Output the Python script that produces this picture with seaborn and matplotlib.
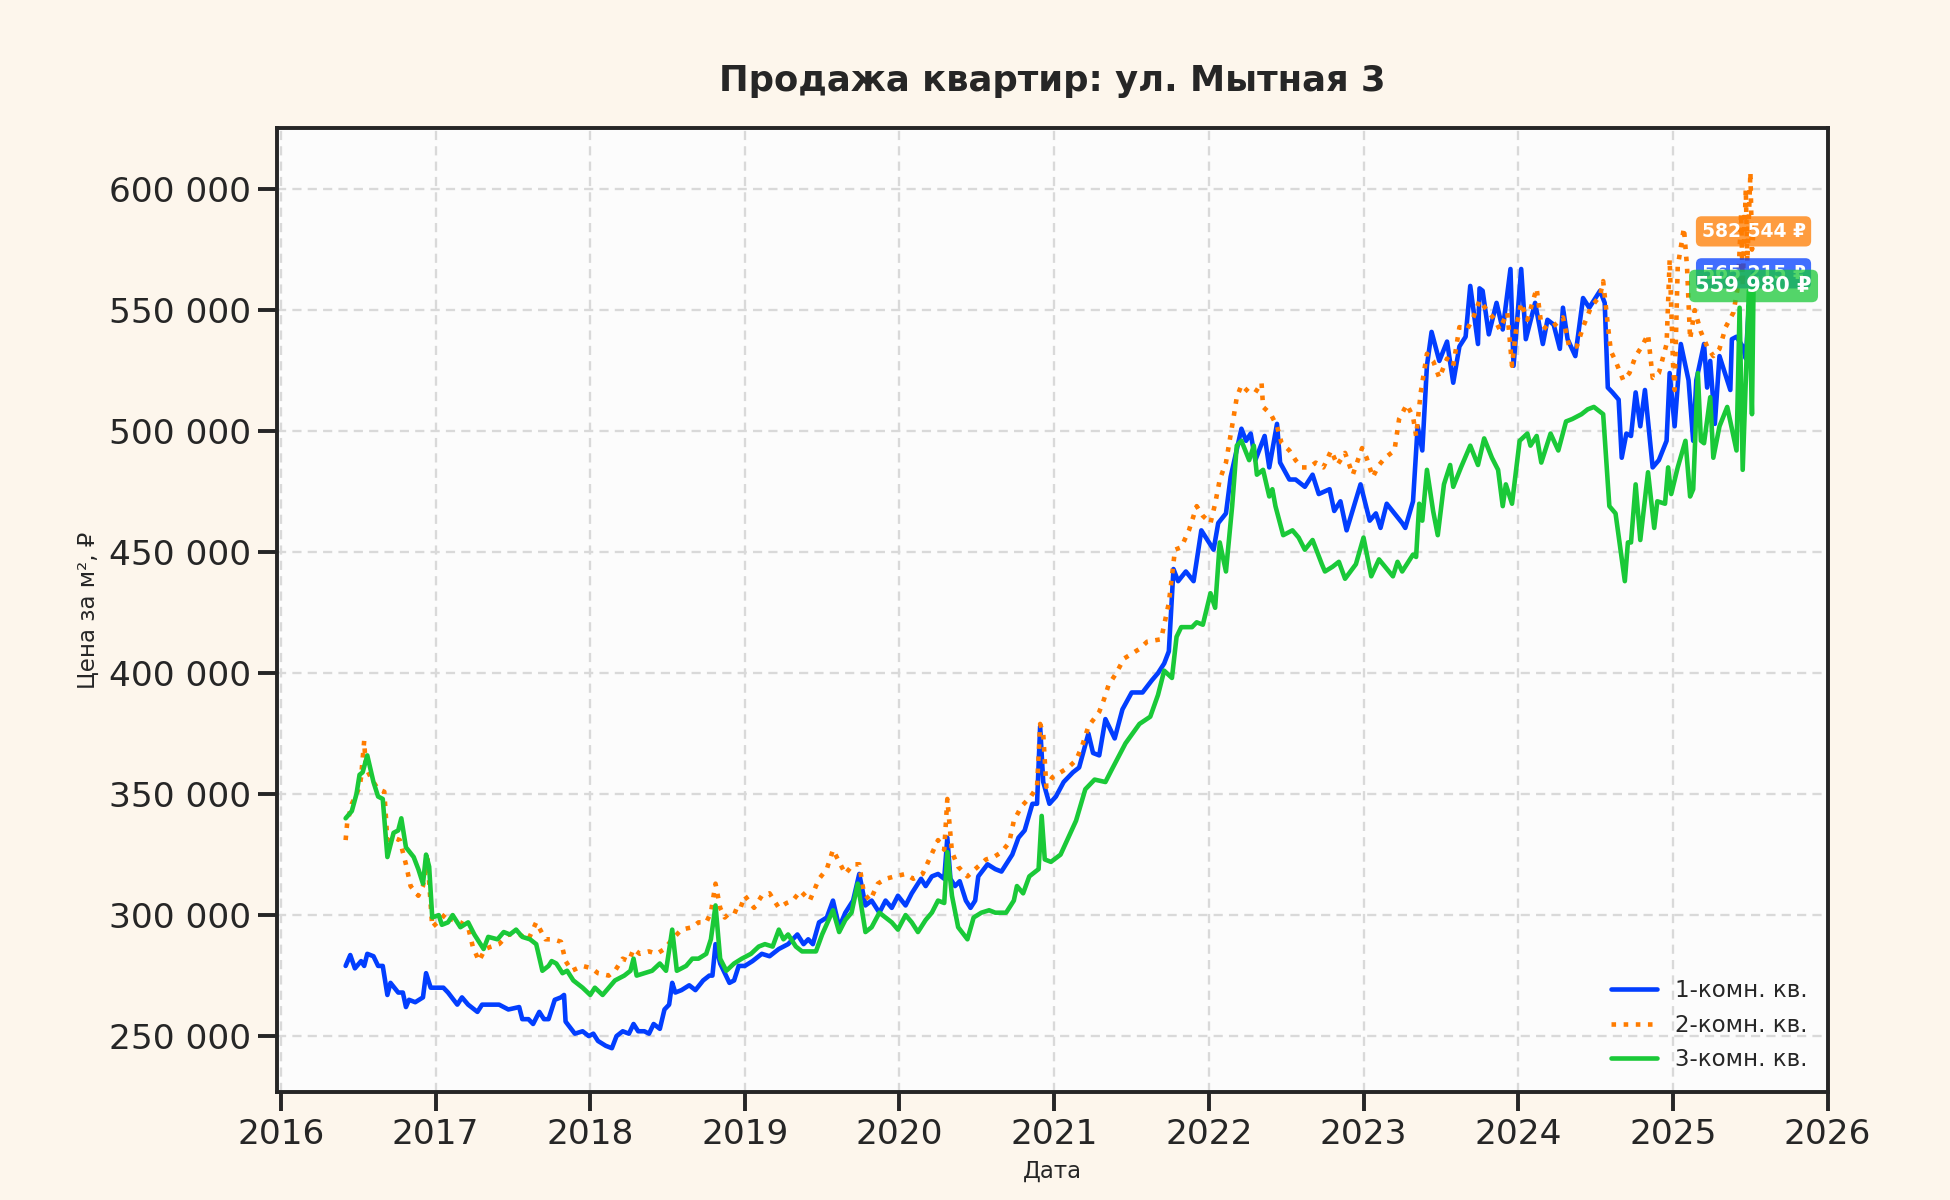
import pandas as pd
import numpy as np
import matplotlib
matplotlib.use("Agg")
import matplotlib.pyplot as plt
import matplotlib.dates as mdates
from matplotlib.ticker import FuncFormatter, MultipleLocator
import seaborn as sns

# price per m2, thousands of rubles (decimal years)
k1_years = [2016.42, 2016.45, 2016.48, 2016.52, 2016.54, 2016.56, 2016.60, 2016.63, 2016.66, 2016.69,
            2016.71, 2016.76, 2016.79, 2016.81, 2016.83, 2016.87, 2016.92, 2016.94, 2016.97, 2017.02,
            2017.05, 2017.08, 2017.14, 2017.17, 2017.21, 2017.27, 2017.30, 2017.35, 2017.41, 2017.47,
            2017.54, 2017.56, 2017.60, 2017.63, 2017.67, 2017.70, 2017.73, 2017.77, 2017.81, 2017.83,
            2017.84, 2017.90, 2017.95, 2017.99, 2018.02, 2018.05, 2018.10, 2018.14, 2018.17, 2018.21,
            2018.25, 2018.28, 2018.31, 2018.35, 2018.38, 2018.41, 2018.45, 2018.48, 2018.51, 2018.53,
            2018.55, 2018.59, 2018.64, 2018.68, 2018.73, 2018.77, 2018.79, 2018.81, 2018.84, 2018.90,
            2018.93, 2018.96, 2019.00, 2019.05, 2019.11, 2019.16, 2019.22, 2019.28, 2019.34, 2019.38,
            2019.41, 2019.44, 2019.48, 2019.53, 2019.57, 2019.61, 2019.65, 2019.70, 2019.74, 2019.78,
            2019.82, 2019.87, 2019.91, 2019.95, 2019.99, 2020.04, 2020.08, 2020.14, 2020.17, 2020.21,
            2020.25, 2020.29, 2020.31, 2020.33, 2020.36, 2020.39, 2020.43, 2020.46, 2020.49, 2020.51,
            2020.57, 2020.62, 2020.66, 2020.70, 2020.73, 2020.77, 2020.81, 2020.86, 2020.89, 2020.91,
            2020.93, 2020.97, 2021.01, 2021.06, 2021.12, 2021.16, 2021.22, 2021.25, 2021.29, 2021.33,
            2021.39, 2021.44, 2021.50, 2021.57, 2021.63, 2021.67, 2021.71, 2021.74, 2021.77, 2021.80,
            2021.85, 2021.90, 2021.95, 2022.03, 2022.06, 2022.11, 2022.14, 2022.21, 2022.24, 2022.27,
            2022.30, 2022.36, 2022.39, 2022.44, 2022.46, 2022.52, 2022.56, 2022.62, 2022.67, 2022.71,
            2022.78, 2022.81, 2022.85, 2022.89, 2022.98, 2023.04, 2023.08, 2023.11, 2023.15, 2023.25,
            2023.27, 2023.32, 2023.35, 2023.38, 2023.41, 2023.44, 2023.49, 2023.54, 2023.58, 2023.62,
            2023.66, 2023.69, 2023.74, 2023.75, 2023.77, 2023.81, 2023.86, 2023.90, 2023.95, 2023.97,
            2024.02, 2024.05, 2024.11, 2024.16, 2024.19, 2024.23, 2024.27, 2024.29, 2024.32, 2024.37,
            2024.42, 2024.46, 2024.53, 2024.56, 2024.58, 2024.61, 2024.65, 2024.67, 2024.70, 2024.73,
            2024.76, 2024.79, 2024.82, 2024.87, 2024.91, 2024.96, 2024.98, 2025.01, 2025.05, 2025.10,
            2025.13, 2025.15, 2025.20, 2025.22, 2025.24, 2025.27, 2025.30, 2025.37, 2025.38, 2025.41,
            2025.45, 2025.47, 2025.49, 2025.50, 2025.52]
k1_vals = [279, 283.5, 278, 281, 279, 284, 283, 279, 279, 267,
           272, 268, 268, 262, 265, 264, 266, 276, 270, 270,
           270, 268, 263, 266, 263, 260, 263, 263, 263, 261,
           262, 257, 257, 255, 260, 257, 257, 265, 266, 267,
           256, 251, 252, 250, 251, 248, 246, 245, 250, 252,
           251, 255, 252, 252, 251, 255, 253, 261, 263, 272,
           268, 269, 271, 269, 273, 275, 275, 288, 280, 272,
           273, 279, 279, 281, 284, 283, 286, 288, 292, 288,
           290, 288, 297, 299, 306, 295, 301, 306, 317, 304,
           306, 301, 306, 303, 308, 304, 309, 315, 312, 316,
           317, 315, 332, 315, 312, 314, 306, 303, 306, 316,
           321, 319, 318, 322, 325, 332, 335, 346, 346, 378,
           355, 346, 349, 355, 359, 361, 375, 367, 366, 381,
           373, 385, 392, 392, 397, 400, 404, 409, 443, 438,
           442, 438, 459, 451, 462, 466, 481, 501, 496, 499,
           488, 498, 485, 503, 487, 480, 480, 477, 482, 474,
           476, 467, 471, 459, 478, 463, 466, 460, 470, 462,
           460, 471, 502, 492, 527, 541, 529, 537, 520, 535,
           539, 560, 536, 559, 558, 540, 553, 542, 567, 527,
           567, 538, 553, 536, 546, 544, 534, 551, 538, 531,
           555, 551, 558, 553, 518, 516, 513, 489, 499, 498,
           516, 502, 517, 485, 488, 496, 524, 502, 536, 521,
           496, 521, 536, 518, 529, 503, 531, 517, 538, 539,
           535, 530, 552, 540, 565.215]

k2_years = [2016.42, 2016.43, 2016.46, 2016.49, 2016.51, 2016.52, 2016.54, 2016.55, 2016.59, 2016.63,
            2016.67, 2016.69, 2016.73, 2016.77, 2016.81, 2016.84, 2016.89, 2016.92, 2016.95, 2016.98,
            2017.03, 2017.07, 2017.11, 2017.16, 2017.21, 2017.24, 2017.28, 2017.32, 2017.36, 2017.41,
            2017.47, 2017.54, 2017.60, 2017.65, 2017.71, 2017.76, 2017.81, 2017.84, 2017.88, 2017.95,
            2018.01, 2018.05, 2018.12, 2018.16, 2018.21, 2018.25, 2018.28, 2018.32, 2018.38, 2018.43,
            2018.48, 2018.53, 2018.59, 2018.66, 2018.70, 2018.75, 2018.78, 2018.81, 2018.84, 2018.87,
            2018.92, 2018.96, 2019.00, 2019.06, 2019.11, 2019.16, 2019.22, 2019.27, 2019.31, 2019.36,
            2019.42, 2019.48, 2019.53, 2019.57, 2019.61, 2019.65, 2019.70, 2019.74, 2019.77, 2019.81,
            2019.86, 2019.91, 2019.97, 2020.04, 2020.09, 2020.15, 2020.20, 2020.25, 2020.29, 2020.31,
            2020.34, 2020.38, 2020.44, 2020.49, 2020.56, 2020.61, 2020.66, 2020.71, 2020.74, 2020.79,
            2020.85, 2020.89, 2020.91, 2020.93, 2020.95, 2020.99, 2021.04, 2021.09, 2021.14, 2021.18,
            2021.22, 2021.29, 2021.32, 2021.35, 2021.40, 2021.45, 2021.50, 2021.55, 2021.60, 2021.69,
            2021.71, 2021.74, 2021.78, 2021.82, 2021.87, 2021.92, 2021.96, 2022.01, 2022.04, 2022.07,
            2022.11, 2022.16, 2022.18, 2022.21, 2022.26, 2022.30, 2022.34, 2022.35, 2022.40, 2022.44,
            2022.47, 2022.52, 2022.56, 2022.60, 2022.65, 2022.69, 2022.74, 2022.79, 2022.83, 2022.88,
            2022.93, 2022.99, 2023.02, 2023.06, 2023.10, 2023.14, 2023.20, 2023.23, 2023.28, 2023.32,
            2023.34, 2023.37, 2023.41, 2023.45, 2023.49, 2023.54, 2023.58, 2023.62, 2023.67, 2023.71,
            2023.75, 2023.81, 2023.85, 2023.88, 2023.93, 2023.96, 2023.99, 2024.02, 2024.06, 2024.12,
            2024.15, 2024.19, 2024.24, 2024.29, 2024.33, 2024.38, 2024.42, 2024.47, 2024.53, 2024.55,
            2024.58, 2024.60, 2024.63, 2024.68, 2024.72, 2024.76, 2024.80, 2024.84, 2024.87, 2024.91,
            2024.96, 2024.98, 2025.00, 2025.01, 2025.03, 2025.07, 2025.09, 2025.11, 2025.14, 2025.18,
            2025.22, 2025.26, 2025.30, 2025.34, 2025.39, 2025.42, 2025.44, 2025.45, 2025.47, 2025.48,
            2025.50, 2025.51, 2025.52]
k2_vals = [331, 338, 346, 350, 353, 357, 372, 361, 356, 352,
           351, 331, 332, 331, 321, 312, 308, 312, 323, 295,
           298, 301, 298, 297, 295, 287, 281, 286, 287, 288,
           292, 292, 290, 297, 290, 290, 289, 281, 277, 279,
           278, 276, 275, 277, 282, 281, 286, 284, 285, 284,
           286, 290, 294, 295, 297, 297, 301, 313, 303, 299,
           302, 301, 308, 303, 308, 309, 303, 305, 306, 310,
           306, 315, 319, 327, 322, 317, 321, 321, 309, 306,
           313, 315, 316, 317, 315, 317, 324, 331, 327, 348,
           326, 320, 316, 319, 323, 324, 326, 330, 339, 345,
           349, 353, 379, 375, 353, 357, 359, 361, 364, 370,
           378, 384, 389, 395, 400, 406, 408, 410, 413, 414,
           420, 429, 451, 452, 459, 469, 465, 462, 470, 480,
           487, 506, 514, 519, 516, 516, 520, 510, 507, 502,
           495, 492, 488, 485, 485, 487, 485, 492, 486, 491,
           482, 493, 489, 481, 486, 489, 492, 505, 511, 506,
           498, 516, 532, 529, 522, 530, 527, 543, 542, 547,
           554, 549, 546, 542, 549, 527, 544, 553, 546, 559,
           544, 542, 544, 547, 535, 535, 543, 551, 556, 562,
           544, 533, 529, 521, 524, 531, 535, 540, 522, 524,
           536, 571, 527, 517, 568, 584, 568, 538, 550, 541,
           535, 531, 534, 543, 549, 560, 590, 560, 600, 570,
           607, 575, 582.544]

k3_years = [2016.42, 2016.46, 2016.49, 2016.51, 2016.53, 2016.56, 2016.60, 2016.63, 2016.66, 2016.69,
            2016.73, 2016.76, 2016.78, 2016.81, 2016.86, 2016.89, 2016.92, 2016.94, 2016.96, 2016.98,
            2017.02, 2017.04, 2017.08, 2017.11, 2017.16, 2017.21, 2017.25, 2017.31, 2017.34, 2017.40,
            2017.44, 2017.48, 2017.52, 2017.56, 2017.61, 2017.65, 2017.69, 2017.73, 2017.75, 2017.78,
            2017.82, 2017.85, 2017.89, 2017.95, 2018.00, 2018.03, 2018.08, 2018.12, 2018.16, 2018.22,
            2018.26, 2018.28, 2018.30, 2018.35, 2018.40, 2018.45, 2018.49, 2018.53, 2018.56, 2018.62,
            2018.66, 2018.70, 2018.75, 2018.78, 2018.81, 2018.84, 2018.88, 2018.93, 2018.98, 2019.04,
            2019.09, 2019.13, 2019.18, 2019.22, 2019.25, 2019.28, 2019.33, 2019.37, 2019.46, 2019.50,
            2019.57, 2019.61, 2019.65, 2019.69, 2019.73, 2019.75, 2019.78, 2019.82, 2019.87, 2019.91,
            2019.95, 2019.99, 2020.04, 2020.08, 2020.12, 2020.17, 2020.21, 2020.25, 2020.29, 2020.31,
            2020.34, 2020.38, 2020.44, 2020.48, 2020.53, 2020.58, 2020.62, 2020.69, 2020.74, 2020.76,
            2020.80, 2020.84, 2020.88, 2020.90, 2020.92, 2020.94, 2020.98, 2021.04, 2021.09, 2021.14,
            2021.20, 2021.26, 2021.33, 2021.37, 2021.46, 2021.55, 2021.62, 2021.67, 2021.71, 2021.76,
            2021.79, 2021.82, 2021.89, 2021.92, 2021.96, 2022.01, 2022.04, 2022.07, 2022.11, 2022.15,
            2022.18, 2022.21, 2022.26, 2022.29, 2022.31, 2022.35, 2022.39, 2022.41, 2022.43, 2022.48,
            2022.54, 2022.58, 2022.62, 2022.67, 2022.73, 2022.75, 2022.80, 2022.84, 2022.88, 2022.95,
            2023.00, 2023.05, 2023.10, 2023.19, 2023.22, 2023.25, 2023.32, 2023.34, 2023.36, 2023.38,
            2023.41, 2023.45, 2023.48, 2023.52, 2023.56, 2023.58, 2023.63, 2023.69, 2023.74, 2023.78,
            2023.83, 2023.87, 2023.90, 2023.92, 2023.96, 2024.01, 2024.06, 2024.08, 2024.12, 2024.15,
            2024.21, 2024.26, 2024.31, 2024.35, 2024.41, 2024.45, 2024.49, 2024.53, 2024.55, 2024.59,
            2024.63, 2024.69, 2024.71, 2024.73, 2024.76, 2024.79, 2024.84, 2024.88, 2024.90, 2024.95,
            2024.97, 2024.99, 2025.03, 2025.08, 2025.11, 2025.13, 2025.16, 2025.18, 2025.20, 2025.24,
            2025.26, 2025.30, 2025.35, 2025.39, 2025.41, 2025.43, 2025.45, 2025.49, 2025.51, 2025.52]
k3_vals = [340, 343, 350, 358, 359, 366, 355, 349, 348, 324,
           334, 335, 340, 328, 324, 319, 313, 325, 320, 299,
           300, 296, 297, 300, 295, 297, 292, 286, 291, 290,
           293, 292, 294, 291, 290, 288, 277, 279, 281, 280,
           276, 277, 273, 270, 267, 270, 267, 270, 273, 275,
           277, 282, 275, 276, 277, 280, 277, 294, 277, 279,
           282, 282, 284, 290, 304, 282, 277, 280, 282, 284,
           287, 288, 287, 294, 290, 292, 287, 285, 285, 292,
           302, 293, 298, 301, 313, 305, 293, 295, 301, 299,
           297, 294, 300, 297, 293, 298, 301, 306, 305, 326,
           308, 295, 290, 299, 301, 302, 301, 301, 306, 312,
           309, 316, 318, 319, 341, 323, 322, 325, 332, 339,
           352, 356, 355, 360, 371, 379, 382, 391, 401, 398,
           415, 419, 419, 421, 420, 433, 427, 454, 442, 469,
           494, 496, 488, 494, 482, 484, 473, 476, 469, 457,
           459, 456, 451, 455, 445, 442, 444, 446, 439, 445,
           456, 440, 447, 440, 446, 442, 449, 448, 470, 463,
           484, 467, 457, 478, 486, 477, 485, 494, 486, 497,
           489, 484, 469, 478, 470, 496, 499, 494, 498, 487,
           499, 492, 504, 505, 507, 509, 510, 508, 507, 469,
           466, 438, 454, 454, 478, 455, 483, 460, 471, 470,
           485, 474, 485, 496, 473, 476, 524, 496, 495, 514,
           489, 502, 510, 498, 492, 551, 484, 558, 507, 559.98]

room_types = ["1-комн. кв.", "2-комн. кв.", "3-комн. кв."]
colors = ["#023eff", "#ff7c00", "#1ac938"]


def to_date(y):
    year = int(y)
    start = pd.Timestamp(year=year, month=1, day=1)
    return start + pd.Timedelta(days=(y - year) * 365.25)


frames = []
for name, yrs, vals in zip(room_types, [k1_years, k2_years, k3_years], [k1_vals, k2_vals, k3_vals]):
    frames.append(pd.DataFrame({
        "date": [to_date(y) for y in yrs],
        "price": np.array(vals) * 1000,
        "type": name,
    }))
df = pd.concat(frames, ignore_index=True)

sns.set_theme(context="talk", style="ticks")
plt.rcParams["font.family"] = ["DejaVu Sans"]

fig = plt.figure(figsize=(13, 8), dpi=150, facecolor="#fdf6ec")
ax = fig.add_axes([0.142, 0.09, 0.7955, 0.803])
ax.set_facecolor("#fcfcfc")

sns.lineplot(data=df, x="date", y="price", hue="type", style="type",
             palette=dict(zip(room_types, colors)),
             dashes={room_types[0]: "", room_types[1]: (1, 1.65), room_types[2]: ""},
             linewidth=2.2, estimator=None, ax=ax)

ax.grid(True, linestyle=(0, (4, 2.7)), color="#d9d9d9", linewidth=1.1)
ax.set_axisbelow(True)
for s in ax.spines.values():
    s.set_color("#262626")

ax.set_xlim(to_date(2015.975), to_date(2026.003))
ax.xaxis.set_major_locator(mdates.YearLocator())
ax.xaxis.set_major_formatter(mdates.DateFormatter("%Y"))
ax.yaxis.set_major_locator(MultipleLocator(50000))
ax.yaxis.set_major_formatter(FuncFormatter(lambda v, p: f"{v:,.0f}".replace(",", " ")))

ax.set_title("Продажа квартир: ул. Мытная 3", fontsize=17, fontweight="bold", pad=18)
ax.set_xlabel("Дата", fontsize=11)
ax.set_ylabel("Цена за м², ₽", fontsize=11)

# last-value labels
for name, yrs, vals, c, fs in zip(room_types, [k1_years, k2_years, k3_years],
                                  [k1_vals, k2_vals, k3_vals], colors, [9, 9, 10]):
    v = vals[-1] * 1000
    ax.text(to_date(yrs[-1]), v, f"{v:,.0f} ₽".replace(",", " "), ha="center", va="center",
            fontsize=fs, fontweight="bold", color="white", zorder=5,
            bbox=dict(boxstyle="round,pad=0.3", fc=c, ec="none", alpha=0.75))

sns.move_legend(ax, "lower right", frameon=False, fontsize=11, title=None)

fig.savefig("out.png", dpi=150, facecolor=fig.get_facecolor())
